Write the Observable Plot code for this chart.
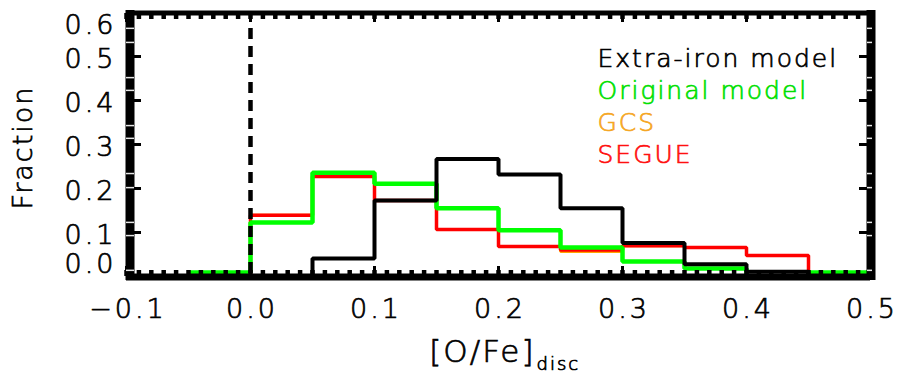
<!DOCTYPE html>
<html>
<head>
<meta charset="utf-8">
<script src="https://cdn.jsdelivr.net/npm/d3@7"></script>
<script src="https://cdn.jsdelivr.net/npm/@observablehq/plot@0.6"></script>
<style>
  html, body { margin: 0; padding: 0; background: #fff; }
  #chart svg text { letter-spacing: 2px; font-weight: 200; stroke: #000; stroke-width: 0.7px; }
  #chart svg g.ticklabel text { letter-spacing: 3px; }
</style>
</head>
<body>
<div id="chart"></div>
<script>
// Left edges of the [O/Fe] bins (width 0.05)
const binLeft = [-0.05, 0.00, 0.05, 0.10, 0.15, 0.20, 0.25, 0.30, 0.35, 0.40, 0.45];
const binWidth = 0.05;

// Fraction of stars per bin
const extraIron = [0.000, 0.000, 0.041, 0.173, 0.267, 0.232, 0.155, 0.076, 0.028, 0.011, 0.000];
const original  = [0.009, 0.123, 0.236, 0.211, 0.155, 0.105, 0.066, 0.034, 0.018, 0.000, 0.009];
const gcs       = [0.000, 0.139, 0.227, 0.173, 0.107, 0.068, 0.057, 0.070, 0.066, 0.048, 0.000];
const segue     = [0.000, 0.139, 0.227, 0.173, 0.107, 0.068, 0.060, 0.070, 0.066, 0.048, 0.000];

// Series colours and widths, in drawing order (last on top)
const seriesValues = [gcs, segue, original, extraIron];
const seriesColors = ["#ffa500", "#ff0000", "#00ff00", "#000000"];
const seriesWidths = [3, 3.5, 4.5, 4];

// Legend, top to bottom
const legendNames  = ["Extra-iron model", "Original model", "GCS", "SEGUE"];
const legendColors = ["#000000", "#00e000", "#f5a623", "#ff1010"];
const legendBaselines = [66, 98, 130, 162];

// Axis ticks
const xTicks = [-0.1, 0.0, 0.1, 0.2, 0.3, 0.4, 0.5];
const yTicks = [0.0, 0.1, 0.2, 0.3, 0.4, 0.5, 0.6];
const yMinorA = [0.014, 0.123, 0.234, 0.343, 0.452, 0.564];
const yMinorB = [0.093, 0.202, 0.314, 0.423, 0.532];
const xMinor = d3.range(-100, 501, 10).map(d => d / 1000);

// Step outline for each series: a point at every bin edge, closing at the last edge
function steps(values) {
  const pts = binLeft.map((x, i) => ({x, y: values[i]}));
  pts.push({x: binLeft[binLeft.length - 1] + binWidth, y: values[values.length - 1]});
  return pts;
}

const fmt = d3.format(".1f");
const tickFont = 27;
const noLabel = {label: null};
const labelOpts = {tickSize: 0, tickFormat: fmt, fontSize: tickFont, fill: "#000", className: "ticklabel", ...noLabel};

const histMarks = seriesValues.map((v, i) =>
  Plot.line(steps(v), {
    x: "x", y: "y", curve: "step-after",
    stroke: seriesColors[i], strokeWidth: seriesWidths[i],
    strokeLinejoin: "miter", strokeLinecap: "butt"
  })
);

const chart = Plot.plot({
  width: 899,
  height: 377,
  marginLeft: 126,
  marginRight: 29,
  marginTop: 12,
  marginBottom: 101,
  style: {fontFamily: "DejaVu Sans", background: "#fff", overflow: "visible"},
  x: {domain: [-0.1, 0.5]},
  y: {domain: [0, 0.6]},
  marks: [
    ...histMarks,

    // reference line at [O/Fe] = 0
    Plot.ruleX([0], {stroke: "#000", strokeWidth: 4.5, strokeDasharray: "11,7", insetTop: 16}),

    // minor and major ticks along bottom and top (pointing inward)
    Plot.axisX(xMinor, {anchor: "bottom", tickSize: -6, strokeWidth: 4.5, text: null, ...noLabel}),
    Plot.axisX(xMinor, {anchor: "top", tickSize: -6, strokeWidth: 4.5, text: null, ...noLabel}),
    Plot.axisX(xTicks, {anchor: "bottom", tickSize: -10, strokeWidth: 3, text: null, ...noLabel}),
    Plot.axisX(xTicks, {anchor: "top", tickSize: -9, strokeWidth: 3, text: null, ...noLabel}),

    // major ticks on left and right (inward)
    Plot.axisY(yTicks, {anchor: "left", tickSize: -15, strokeWidth: 3, text: null, ...noLabel}),
    Plot.axisY(yTicks, {anchor: "right", tickSize: -12, strokeWidth: 3, text: null, ...noLabel}),

    // thick frame
    Plot.ruleX([-0.1], {stroke: "#000", strokeWidth: 9, dx: 3.5, insetTop: -2, insetBottom: -4}),
    Plot.ruleX([0.5], {stroke: "#000", strokeWidth: 9, dx: 0.5, insetTop: -2, insetBottom: -4}),
    Plot.ruleY([0.6], {stroke: "#000", strokeWidth: 5, dy: 0.5}),
    Plot.ruleY([0], {stroke: "#000", strokeWidth: 7, dy: 0.5}),

    // light notches inside the thick side frame
    Plot.axisY([...yMinorA, ...yMinorB], {anchor: "left", tickSize: -8, stroke: "#e8e8e8", strokeWidth: 1.5, text: null, ...noLabel}),
    Plot.axisY([...yMinorA, ...yMinorB], {anchor: "right", tickSize: -5, dx: 1, stroke: "#e8e8e8", strokeWidth: 1.5, text: null, ...noLabel}),

    // tick labels
    Plot.axisX(xTicks, {anchor: "bottom", tickPadding: 22, dx: 1.5, ...labelOpts}),
    Plot.axisY(yTicks.slice(1, 6), {anchor: "left", tickPadding: 10, dy: 3, ...labelOpts}),
    Plot.axisY([0.0], {anchor: "left", tickPadding: 10, dy: -12, ...labelOpts}),
    Plot.axisY([0.6], {anchor: "left", tickPadding: 10, dy: 13, ...labelOpts}),

    // axis titles
    Plot.text(["Fraction"], {frameAnchor: "left", textAnchor: "middle", rotate: -90, dx: -103, dy: 3, fontSize: tickFont, fill: "#000"}),
    Plot.text(["[O/Fe]"], {frameAnchor: "bottom", textAnchor: "end", dx: 37, dy: 85, fontSize: 31, fill: "#000"}),
    Plot.text(["disc"], {frameAnchor: "bottom", textAnchor: "start", dx: 38, dy: 93, fontSize: 18, fill: "#000"}),

    // legend
    Plot.text(legendNames, {
      frameAnchor: "top-left", textAnchor: "start", lineAnchor: "bottom",
      dx: 597 - 126, fontSize: 25, fill: "#000"
    })
  ]
});

document.getElementById("chart").appendChild(chart);

// colour the legend rows and set them on their baselines
{
  const legendTexts = [...chart.querySelectorAll("text")].filter(t => legendNames.includes(t.textContent));
  legendTexts.forEach((t, i) => {
    const k = legendNames.indexOf(t.textContent);
    t.setAttribute("y", legendBaselines[k] - 12);
    t.style.fill = legendColors[k];
    t.style.stroke = legendColors[k];
  });
}
</script>
</body>
</html>
